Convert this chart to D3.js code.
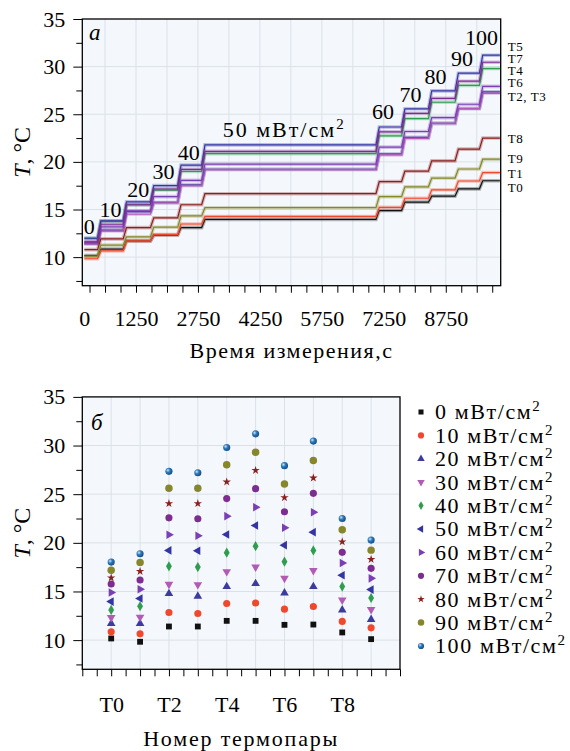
<!DOCTYPE html>
<html>
<head>
<meta charset="utf-8">
<script src="https://cdn.jsdelivr.net/npm/d3@7"></script>
<style>
  body { margin: 0; background: #fff; }
  text { font-family: "Liberation Serif", "DejaVu Serif", serif; fill: #000; }
</style>
</head>
<body>
<svg id="chart" width="570" height="751"></svg>
<script>
// power levels, mW/cm2
const powers = [0, 10, 20, 30, 40, 50, 60, 70, 80, 90, 100];
// thermocouples
const sensors = ['T0', 'T1', 'T2', 'T3', 'T4', 'T5', 'T6', 'T7', 'T8', 'T9'];

// mean temperature of T0..T9 at each power level, deg C
const temp0   = [10.17,  9.83, 11.40, 11.40, 11.98, 11.98, 11.57, 11.60, 10.79, 10.10];
const temp10  = [10.85, 10.65, 12.84, 12.74, 13.76, 13.82, 13.18, 13.45, 11.92, 11.26];
const temp20  = [11.71, 11.71, 14.78, 14.50, 15.50, 15.81, 14.85, 15.50, 13.10, 12.12];
const temp30  = [12.32, 12.36, 15.74, 15.70, 17.04, 17.51, 16.35, 17.15, 14.13, 13.14];
const temp40  = [13.10, 13.48, 17.58, 17.51, 18.99, 19.66, 18.06, 19.22, 15.50, 14.33];
const temp50  = [13.96, 14.27, 19.22, 19.19, 20.86, 21.78, 19.76, 21.10, 16.66, 15.19];
const temp60  = [14.89, 15.23, 20.83, 20.73, 22.74, 23.66, 21.55, 23.15, 17.93, 16.35];
const temp70  = [15.77, 16.18, 22.57, 22.47, 24.55, 25.57, 23.19, 25.09, 19.02, 17.38];
const temp80  = [16.40, 17.07, 24.04, 24.04, 26.26, 27.45, 24.65, 26.67, 20.11, 18.30];
const temp90  = [17.17, 17.99, 25.60, 25.60, 28.03, 29.31, 26.05, 28.47, 21.34, 19.25];
const temp100 = [18.02, 18.88, 27.35, 27.20, 29.80, 31.20, 27.93, 30.46, 22.50, 20.28];

// start time of each power stage and end of the run, s
const stageStart = [0, 320, 940, 1600, 2260, 2840, 7060, 7680, 8330, 8975, 9565];
const runEnd = 10060;

// tick labels
const timeLabels = [0, 1250, 2750, 4250, 5750, 7250, 8750];
const tempTicks = [10, 15, 20, 25, 30, 35];
const sensorLabels = [0, 2, 4, 6, 8];

const stageTemps = [temp0, temp10, temp20, temp30, temp40, temp50, temp60, temp70, temp80, temp90, temp100];

// colours, one per power level (also used for thermocouple Ti)
const palette = ['#111111', '#f0482c', '#3b3ba0', '#b25ab5', '#2e9e4e', '#3434a4',
                 '#7b3fb5', '#7d2d91', '#8b1e1e', '#86862a', '#2b7bbf'];

const svg = d3.select('#chart');
const bg = '#f4f8fc';
const gridColour = '#dbe1e8';

// gradient for the "sphere" markers
const defs = svg.append('defs');
const grad = defs.append('radialGradient').attr('id', 'ball')
    .attr('cx', '35%').attr('cy', '35%').attr('r', '65%');
grad.append('stop').attr('offset', '0%').attr('stop-color', '#cfe6f8');
grad.append('stop').attr('offset', '45%').attr('stop-color', '#2b7bbf');
grad.append('stop').attr('offset', '100%').attr('stop-color', '#184f85');

// ---------------- panel a: temperature vs time ----------------
const boxA = {left: 82.3, right: 500.7, top: 19, bottom: 285.7};

const xTime = d3.scaleLinear().domain([-50, 10080]).range([boxA.left, boxA.right]);
const yA = d3.scaleLinear().domain([7, 35]).range([boxA.bottom, boxA.top]);

const gA = svg.append('g');

gA.append('rect')
    .attr('x', boxA.left).attr('y', boxA.top)
    .attr('width', boxA.right - boxA.left).attr('height', boxA.bottom - boxA.top)
    .attr('fill', bg);

// grid
gA.selectAll('.vgrid')
    .data(d3.range(500, 10000, 750))
    .enter().append('line')
        .attr('x1', d => xTime(d)).attr('x2', d => xTime(d))
        .attr('y1', boxA.top).attr('y2', boxA.bottom)
        .attr('stroke', gridColour).attr('stroke-width', 1);
gA.selectAll('.hgrid')
    .data(tempTicks.slice(0, -1))
    .enter().append('line')
        .attr('x1', boxA.left).attr('x2', boxA.right)
        .attr('y1', d => yA(d)).attr('y2', d => yA(d))
        .attr('stroke', gridColour).attr('stroke-width', 1);

svg.append('clipPath').attr('id', 'clipA')
    .append('rect')
        .attr('x', boxA.left).attr('y', boxA.top)
        .attr('width', boxA.right - boxA.left).attr('height', boxA.bottom - boxA.top);

// build the step record of one thermocouple from the stage means
const ramp = 80;
function sensorRecord(si) {
    const pts = [];
    stageTemps.forEach((arr, k) => {
        const tEnd = k < stageStart.length - 1 ? stageStart[k + 1] : runEnd;
        pts.push([k === 0 ? stageStart[k] : stageStart[k] + ramp, arr[si]]);
        pts.push([tEnd, arr[si]]);
    });
    return pts;
}

const line = d3.line()
    .x(d => xTime(d[0]))
    .y(d => yA(d[1]));

const lines = gA.append('g').attr('clip-path', 'url(#clipA)');
sensors.forEach((s, i) => {
    const rec = sensorRecord(i);
    lines.append('path')
        .attr('d', line(rec))
        .attr('fill', 'none')
        .attr('stroke', palette[i])
        .attr('stroke-width', 3.6)
        .attr('stroke-opacity', 0.3);
    lines.append('path')
        .attr('d', line(rec))
        .attr('fill', 'none')
        .attr('stroke', palette[i])
        .attr('stroke-width', 1.2);
});

// stage annotations (0, 10, ..., 100)
const stageLabelOffset = [[5, 4], [13, 4], [15, 5], [13, 7], [11, 5], [21, 8],
                          [7, 8], [9, 7], [7, 7], [7, 7], [2, 10]];
powers.forEach((p, k) => {
    const [dx, dy] = stageLabelOffset[k];
    const txt = gA.append('text')
        .attr('x', xTime(stageStart[k]) + dx)
        .attr('y', yA(d3.max(stageTemps[k])) - dy)
        .attr('font-size', 22);
    if (p === 50) {
        txt.attr('text-anchor', 'start').attr('letter-spacing', 2).text('50 мВт/см');
        txt.append('tspan').attr('dy', -8).attr('font-size', 15).text('2');
    } else {
        txt.attr('text-anchor', 'middle').text(p);
    }
});

// thermocouple names on the right
const endLabelLayout = [
    {text: 'T5', T: 32.14}, {text: 'T7', T: 30.87}, {text: 'T4', T: 29.61},
    {text: 'T6', T: 28.33}, {text: 'T2, T3', T: 26.84}, {text: 'T8', T: 22.47},
    {text: 'T9', T: 20.33}, {text: 'T1', T: 18.83}, {text: 'T0', T: 17.33}
];
gA.selectAll('.endlab')
    .data(endLabelLayout)
    .enter().append('text')
        .attr('x', boxA.right + 7)
        .attr('y', d => yA(d.T))
        .attr('dy', '0.35em')
        .attr('font-size', 13)
        .attr('letter-spacing', 0.6)
        .text(d => d.text);

// axes
gA.append('g')
    .attr('transform', `translate(0, ${boxA.bottom})`)
    .call(d3.axisBottom(xTime).tickValues(d3.range(125, 10000, 375)).tickSize(7).tickFormat(''))
    .call(g => g.select('.domain').remove());
gA.append('g')
    .attr('transform', `translate(0, ${boxA.bottom})`)
    .call(d3.axisBottom(xTime).tickValues(timeLabels).tickSize(0).tickPadding(24.4).tickFormat(d3.format('d')))
    .call(g => g.select('.domain').remove())
    .selectAll('text').attr('font-size', 22).attr('font-family', null);

gA.append('g')
    .attr('transform', `translate(${boxA.left}, 0)`)
    .call(d3.axisLeft(yA).tickValues(tempTicks).tickSize(9).tickPadding(8))
    .call(g => g.select('.domain').remove())
    .selectAll('text').attr('font-size', 22).attr('font-family', null);
gA.append('g')
    .attr('transform', `translate(${boxA.left}, 0)`)
    .call(d3.axisLeft(yA).tickValues(d3.range(7.5, 35, 5)).tickSize(6).tickFormat(''))
    .call(g => g.select('.domain').remove());

gA.append('rect')
    .attr('x', boxA.left).attr('y', boxA.top)
    .attr('width', boxA.right - boxA.left).attr('height', boxA.bottom - boxA.top)
    .attr('fill', 'none').attr('stroke', '#000').attr('stroke-width', 1.3);

gA.append('text')
    .attr('x', 89).attr('y', 40)
    .attr('font-size', 23).attr('font-style', 'italic')
    .text('a');

gA.append('text')
    .attr('x', (boxA.left + boxA.right) / 2).attr('y', 358)
    .attr('text-anchor', 'middle').attr('font-size', 22)
    .attr('letter-spacing', 1.5)
    .text('Время измерения,с');

function yTitle(g, cy) {
    const t = g.append('text')
        .attr('transform', `translate(30, ${cy}) rotate(-90)`)
        .attr('text-anchor', 'middle').attr('font-size', 24);
    t.append('tspan').attr('font-style', 'italic').text('T');
    t.append('tspan').text(', °C');
}
yTitle(gA, (boxA.top + boxA.bottom) / 2);

// ---------------- panel б: temperature per thermocouple ----------------
const boxB = {left: 82.3, right: 400, top: 396.9, bottom: 669.3};

const xSensor = d3.scaleLinear().domain([-1, 10]).range([boxB.left, boxB.right]);
const yB = d3.scaleLinear().domain([7, 35]).range([boxB.bottom, boxB.top]);

const gB = svg.append('g');

gB.append('rect')
    .attr('x', boxB.left).attr('y', boxB.top)
    .attr('width', boxB.right - boxB.left).attr('height', boxB.bottom - boxB.top)
    .attr('fill', bg);

gB.selectAll('.vgrid')
    .data(sensors.map((s, i) => i))
    .enter().append('line')
        .attr('x1', d => xSensor(d)).attr('x2', d => xSensor(d))
        .attr('y1', boxB.top).attr('y2', boxB.bottom)
        .attr('stroke', gridColour).attr('stroke-width', 1);
gB.selectAll('.hgrid')
    .data(tempTicks.slice(0, -1))
    .enter().append('line')
        .attr('x1', boxB.left).attr('x2', boxB.right)
        .attr('y1', d => yB(d)).attr('y2', d => yB(d))
        .attr('stroke', gridColour).attr('stroke-width', 1);

// marker per power level
const markerStyle = [
    {sym: d3.symbolSquare,   rot: 0,   size: 34},
    {sym: d3.symbolCircle,   rot: 0,   size: 40},
    {sym: d3.symbolTriangle, rot: 0,   size: 32},
    {sym: d3.symbolTriangle, rot: 180, size: 32},
    {sym: d3.symbolDiamond,  rot: 0,   size: 30},
    {sym: d3.symbolTriangle, rot: -90, size: 32},
    {sym: d3.symbolTriangle, rot: 90,  size: 32},
    {sym: d3.symbolCircle,   rot: 0,   size: 40},
    {sym: d3.symbolStar,     rot: 0,   size: 22},
    {sym: d3.symbolCircle,   rot: 0,   size: 44},
    {sym: d3.symbolCircle,   rot: 0,   size: 40}
];
function markerFill(k) { return k === 10 ? 'url(#ball)' : palette[k]; }

powers.forEach((p, k) => {
    const st = markerStyle[k];
    gB.append('g').selectAll('path')
        .data(stageTemps[k])
        .enter().append('path')
            .attr('d', d3.symbol().type(st.sym).size(st.size))
            .attr('transform', (d, i) => `translate(${xSensor(i)}, ${yB(d)}) rotate(${st.rot})`)
            .attr('fill', markerFill(k));
});

gB.append('g')
    .attr('transform', `translate(0, ${boxB.bottom})`)
    .call(d3.axisBottom(xSensor).tickValues(d3.range(-1, 10.01, 0.5)).tickSize(7).tickFormat(''))
    .call(g => g.select('.domain').remove());
gB.append('g')
    .attr('transform', `translate(0, ${boxB.bottom})`)
    .call(d3.axisBottom(xSensor).tickValues(sensorLabels).tickSize(0).tickPadding(26.8).tickFormat(d => sensors[d]))
    .call(g => g.select('.domain').remove())
    .selectAll('text').attr('font-size', 22).attr('font-family', null);

gB.append('g')
    .attr('transform', `translate(${boxB.left}, 0)`)
    .call(d3.axisLeft(yB).tickValues(tempTicks).tickSize(9).tickPadding(8))
    .call(g => g.select('.domain').remove())
    .selectAll('text').attr('font-size', 22).attr('font-family', null);
gB.append('g')
    .attr('transform', `translate(${boxB.left}, 0)`)
    .call(d3.axisLeft(yB).tickValues(d3.range(7.5, 35, 5)).tickSize(6).tickFormat(''))
    .call(g => g.select('.domain').remove());

gB.append('rect')
    .attr('x', boxB.left).attr('y', boxB.top)
    .attr('width', boxB.right - boxB.left).attr('height', boxB.bottom - boxB.top)
    .attr('fill', 'none').attr('stroke', '#000').attr('stroke-width', 1.3);

gB.append('text')
    .attr('x', 91).attr('y', 430)
    .attr('font-size', 23).attr('font-style', 'italic')
    .text('б');

gB.append('text')
    .attr('x', (boxB.left + boxB.right) / 2).attr('y', 746)
    .attr('text-anchor', 'middle').attr('font-size', 22)
    .attr('letter-spacing', 1.8)
    .text('Номер термопары');

yTitle(gB, (boxB.top + boxB.bottom) / 2);

// legend
const legend = svg.append('g');
powers.forEach((p, k) => {
    const st = markerStyle[k];
    const cy = 412 + k * 23.4;
    legend.append('path')
        .attr('d', d3.symbol().type(st.sym).size(st.size * 0.75))
        .attr('transform', `translate(421, ${cy}) rotate(${st.rot})`)
        .attr('fill', markerFill(k));
    const t = legend.append('text')
        .attr('x', 435).attr('y', cy + 7.3)
        .attr('font-size', 22)
        .attr('letter-spacing', 1.6)
        .text(`${p} мВт/см`);
    t.append('tspan').attr('dy', -8).attr('font-size', 15).text('2');
});
</script>
</body>
</html>
